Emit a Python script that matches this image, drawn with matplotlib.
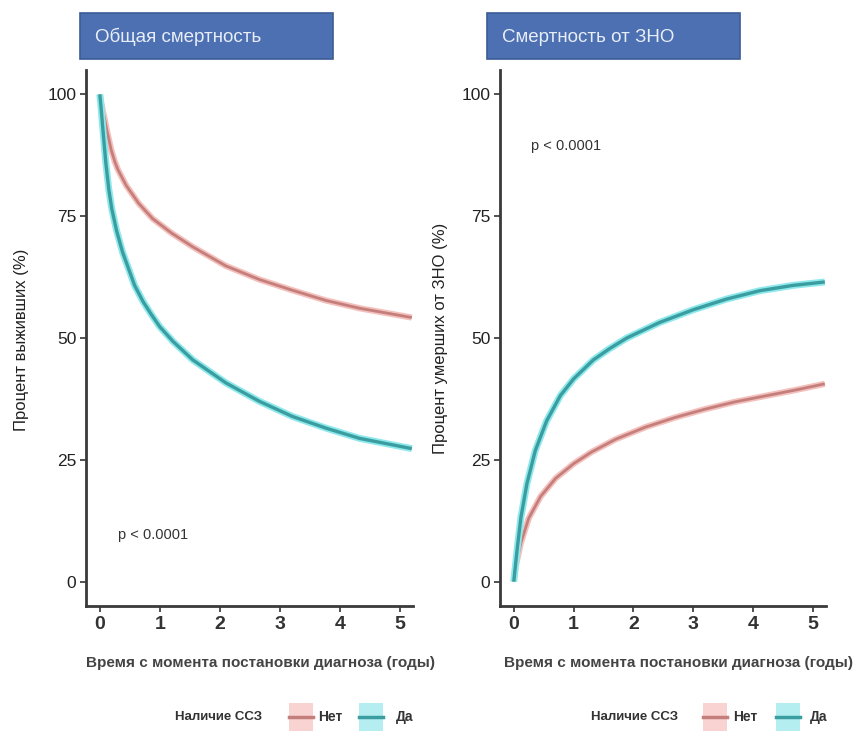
import matplotlib
matplotlib.use("Agg")
import matplotlib.pyplot as plt
from matplotlib.patches import Rectangle
from matplotlib.lines import Line2D

plt.rcParams['font.family'] = ['Liberation Sans', 'DejaVu Sans']

# ---- data: overall survival (left) ----
os_t_net = [0, 0.02, 0.05, 0.08, 0.12, 0.19, 0.25, 0.3, 0.44, 0.65, 0.88, 1.2, 1.55, 2.1, 2.66, 3.21, 3.77, 4.33, 5.2]
os_v_net = [100, 98.5, 96.6, 95, 92.5, 88.6, 86.2, 84.6, 81.3, 77.6, 74.5, 71.5, 68.7, 64.8, 62.0, 59.8, 57.7, 56.1, 54.2]
os_t_da = [0, 0.02, 0.05, 0.1, 0.15, 0.2, 0.28, 0.38, 0.58, 0.72, 0.86, 1.0, 1.22, 1.55, 2.1, 2.66, 3.21, 3.77, 4.33, 5.2]
os_v_da = [100, 97.5, 93, 86, 80.5, 76.5, 72, 67.6, 60.8, 57.5, 54.8, 52.3, 49.3, 45.5, 40.8, 37.0, 33.9, 31.5, 29.4, 27.3]

# ---- data: cancer mortality (right) ----
cm_t_net = [0, 0.02, 0.05, 0.12, 0.25, 0.45, 0.7, 1.0, 1.3, 1.7, 2.2, 2.7, 3.2, 3.7, 4.2, 4.7, 5.2]
cm_v_net = [0, 2.2, 4.2, 8.0, 13.0, 17.5, 21.2, 24.2, 26.6, 29.2, 31.7, 33.7, 35.4, 36.9, 38.1, 39.3, 40.6]
cm_t_da = [0, 0.03, 0.06, 0.12, 0.22, 0.36, 0.55, 0.78, 1.0, 1.33, 1.6, 1.89, 2.44, 3.0, 3.56, 4.11, 4.67, 5.2]
cm_v_da = [0, 3.5, 7.0, 13.2, 20.1, 26.9, 33.0, 38.2, 41.6, 45.5, 47.8, 50.0, 53.2, 55.8, 58.0, 59.7, 60.8, 61.5]

x_ticks = [0, 1, 2, 3, 4, 5]
y_ticks = [0, 25, 50, 75, 100]
titles = ["Общая смертность", "Смертность от ЗНО"]
ylabels = ["Процент выживших (%)", "Процент умерших от ЗНО (%)"]
xlabel = "Время с момента постановки диагноза (годы)"
legend_title = "Наличие ССЗ"
groups = ["Нет", "Да"]
p_text = "p < 0.0001"

RED_HALO, RED_LINE = '#f4c0bc', '#c47f7c'
CY_HALO, CY_LINE = '#8ee8ec', '#3a9da0'

W, H = 861, 733
fig = plt.figure(figsize=(W / 100, H / 100), dpi=100)


def ax_rect(x0, x1, ytop, ybot):
    return [x0 / W, (H - ybot) / H, (x1 - x0) / W, (ybot - ytop) / H]


axL = fig.add_axes(ax_rect(86, 413, 70, 606))
axR = fig.add_axes(ax_rect(500, 826, 70, 606))

panels = [
    (axL, os_t_net, os_v_net, os_t_da, os_v_da),
    (axR, cm_t_net, cm_v_net, cm_t_da, cm_v_da),
]

for ax, tn, vn, td, vd in panels:
    ax.plot(tn, vn, color=RED_HALO, lw=4.5, solid_capstyle='butt', solid_joinstyle='round')
    ax.plot(tn, vn, color=RED_LINE, lw=2.0, solid_capstyle='butt', solid_joinstyle='round')
    ax.plot(td, vd, color=CY_HALO, lw=5.0, solid_capstyle='butt', solid_joinstyle='round')
    ax.plot(td, vd, color=CY_LINE, lw=2.4, solid_capstyle='butt', solid_joinstyle='round')
    ax.set_xlim(-0.23, 5.22)
    ax.set_ylim(-5, 105)
    ax.set_xticks(x_ticks)
    ax.set_yticks(y_ticks)
    ax.tick_params(axis='both', length=4, width=1.2, color='#333333',
                   labelsize=12.5, labelcolor='#222222', pad=3)
    for lab in ax.get_xticklabels():
        lab.set_fontsize(14)
        lab.set_fontweight('bold')
        lab.set_color('#333333')
    for s in ['top', 'right']:
        ax.spines[s].set_visible(False)
    for s in ['left', 'bottom']:
        ax.spines[s].set_linewidth(2.0)
        ax.spines[s].set_color('#3a3a3a')

# p-values
axL.text(0.30, 9.5, p_text, fontsize=10.5, color='#333333', ha='left', va='center')
axR.text(0.28, 89.5, p_text, fontsize=10.5, color='#333333', ha='left', va='center')

# y labels
fig.text(22 / W, 1 - 340 / H, ylabels[0], rotation=90, ha='center', va='center',
         fontsize=12, color='#222222')
fig.text(441 / W, 1 - 338 / H, ylabels[1], rotation=90, ha='center', va='center',
         fontsize=12, color='#222222')

# x labels
for xc in (261, 678):
    fig.text(xc / W, 1 - 663 / H, xlabel, ha='center', va='center', fontsize=11,
             fontweight='bold', color='#444444')

# title boxes
for (x0, x1, tx), title in zip([(80, 333, 95), (487, 740, 502)], titles):
    box = Rectangle((x0 / W, 1 - 59 / H), (x1 - x0) / W, 46 / H,
                    transform=fig.transFigure, facecolor='#4c70b2',
                    edgecolor='#3c5c95', lw=1.2)
    fig.patches.append(box)
    fig.text(tx / W, 1 - 37 / H, title, ha='left', va='center', fontsize=13.5,
             color='#e8eef8')


# legends
def draw_legend(xt, xk1, xn, xk2, xd):
    y = 1 - 717 / H
    fig.text(xt / W, y, legend_title, ha='left', va='center', fontsize=9.5,
             color='#333333', fontweight='bold')
    for xk, halo, line, lab, xl in [(xk1, '#f9d3d1', RED_LINE, groups[0], xn),
                                    (xk2, '#b5eef0', CY_LINE, groups[1], xd)]:
        fig.patches.append(Rectangle(((xk - 12) / W, 1 - 731 / H), 24 / W, 28 / H,
                                     transform=fig.transFigure, facecolor=halo,
                                     edgecolor='none'))
        fig.lines.append(Line2D([(xk - 12) / W, (xk + 12) / W], [y, y],
                                transform=fig.transFigure, color=line, lw=2.5))
        fig.text(xl / W, y, lab, ha='left', va='center', fontsize=10,
                 color='#333333', fontweight='bold')


draw_legend(175, 301, 318, 371, 396)
draw_legend(591, 715, 733, 788, 810)

fig.savefig("out.png", dpi=100)
